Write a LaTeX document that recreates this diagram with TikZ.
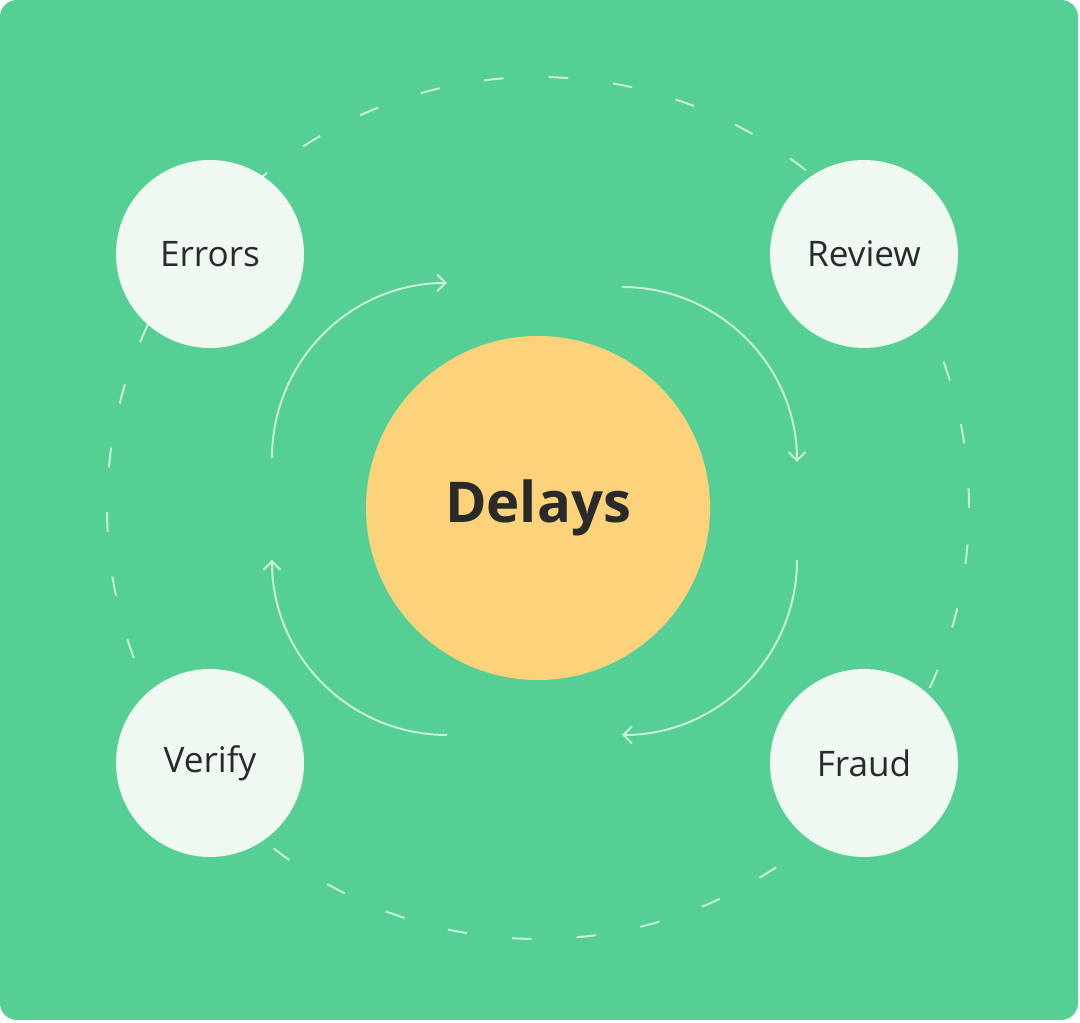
\documentclass[tikz,border=0pt]{standalone}
\usepackage{fontspec}
\setmainfont{Open Sans}
\usetikzlibrary{arrows.meta}
\definecolor{bggreen}{HTML}{56CF94}
\definecolor{delayyellow}{HTML}{FCD27A}
\definecolor{bubble}{HTML}{EFF8F1}
\definecolor{pale}{HTML}{C9F0D9}
\definecolor{ink}{HTML}{2A2A2A}
\tikzset{
  issue/.style={circle, fill=bubble, draw=none, minimum size=188*0.025cm, inner sep=0pt,
    text=ink, font=\fontsize{25}{30}\selectfont},
  flow/.style={draw=pale, line width=1.4pt, -{Straight Barb[length=6pt,width=12pt]}},
}
\begin{document}
\begin{tikzpicture}[x=0.025cm, y=0.025cm]
        \useasboundingbox (0,0) rectangle (1080,1023);
        \fill[bggreen, rounded corners=12] (0,3) rectangle (1078,1023);

        % dashed ring
        \draw[pale, line width=1.4pt, dash pattern=on 14pt off 32pt] (538,515) circle[radius=431];

        \node[circle, fill=delayyellow, minimum size=344*0.025cm, inner sep=0pt, text=ink,
              font=\fontsize{40}{48}\selectfont\bfseries] (delays) at (538,515) {Delays};

        \node[issue] (errors) at (210,769) {Errors};
        \node[issue] (review) at (864,769) {Review};
        \node[issue] (verify) at (210,260) {Verify};
        \node[issue] (fraud) at (864,260) {Fraud};

        % loop arrows
        \draw[flow] (272,565) arc[start angle=180, end angle=90, radius=175];
        \draw[flow] (622,736) arc[start angle=90, end angle=0, radius=175];
        \draw[flow] (797,463) arc[start angle=0, end angle=-90, radius=175];
        \draw[flow] (447,288) arc[start angle=270, end angle=180, radius=175];
    \end{tikzpicture}
\end{document}
